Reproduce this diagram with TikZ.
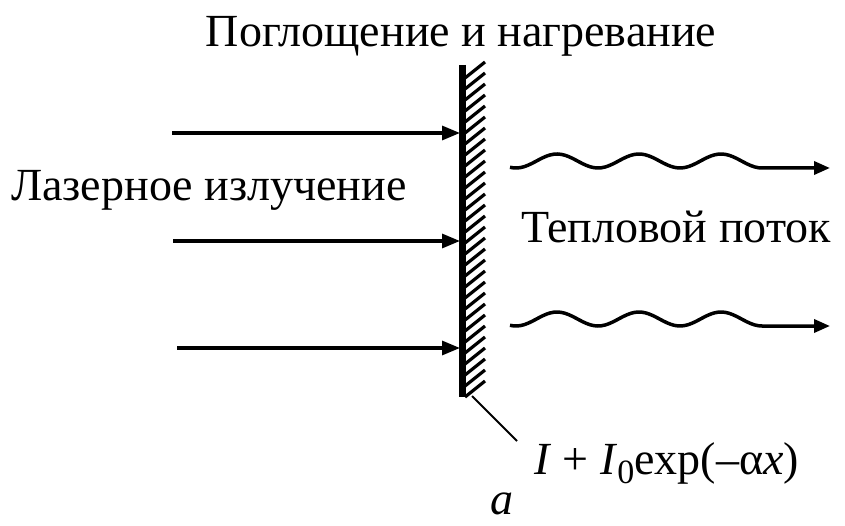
\documentclass[tikz,border=0pt]{standalone}
\usepackage{fontspec}
\setmainfont{Liberation Serif}
\usetikzlibrary{arrows.meta}
\tikzset{
  lbl/.style={inner sep=0pt, font=\fontsize{46}{50}\selectfont},
  ray/.style={line width=3.2pt, -{Triangle[length=18pt,width=14pt]}},
  heat/.style={line width=3.5pt, -{Triangle[length=16pt,width=13pt]}},
  wall/.style={line width=7pt},
  hatch/.style={line width=3.2pt},
}
\begin{document}
\begin{tikzpicture}[x=1pt,y=-1pt]
\useasboundingbox (0,0) rectangle (845,526);
% wall
\coordinate (wt) at (462,65);
\coordinate (wb) at (462,397);
\draw[wall] (wt) -- (wb);
\foreach \k in {0,...,29}{
  \draw[hatch] (465,{78+\k*11}) -- (485,{62+\k*11});
}
% incoming rays
\coordinate (r1s) at (172,133); \coordinate (r1e) at (460,133);
\coordinate (r2s) at (173,241); \coordinate (r2e) at (460,241);
\coordinate (r3s) at (177,348); \coordinate (r3e) at (460,348);
\draw[ray] (r1s) -- (r1e);
\draw[ray] (r2s) -- (r2e);
\draw[ray] (r3s) -- (r3e);
% heat flow wavy arrows
\coordinate (h1s) at (510,168); \coordinate (h1e) at (830,168);
\coordinate (h2s) at (510,326); \coordinate (h2e) at (830,326);
\draw[heat] plot[smooth, domain=510:762, samples=70] (\x,{161-7*cos((\x-557)/82*360)}) -- (h1e);
\draw[heat] plot[smooth, domain=510:762, samples=70] (\x,{319-7*cos((\x-557)/82*360)}) -- (h2e);
% labels
\node[lbl, anchor=base] (title) at (461,47) {Поглощение и нагревание};
\node[lbl, anchor=base west] (laser) at (11,201) {Лазерное излучение};
\node[lbl, anchor=base west] (flow) at (521,243) {Тепловой поток};
\node[lbl, anchor=base west] (formula) at (534,474) {\textit{I} + \textit{I}\raisebox{-9pt}{\fontsize{34}{36}\selectfont 0}exp(–α\textit{x})};
\node[lbl, anchor=base] (sub) at (502,514) {\textit{a}};
% leader
\coordinate (ls) at (472,396);
\draw[line width=2pt] (ls) -- (517,441);
\end{tikzpicture}
\end{document}
